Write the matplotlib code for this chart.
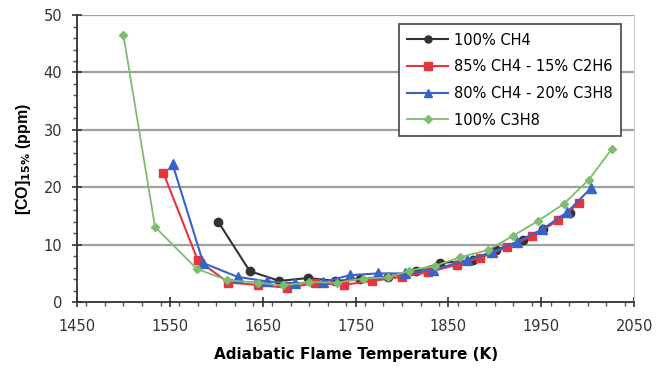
import matplotlib
matplotlib.use('Agg')
import matplotlib.pyplot as plt
from matplotlib.ticker import MultipleLocator

plt.rcParams['font.family'] = ['DejaVu Sans']

# 100% CH4
t_ch4 = [1602, 1636, 1668, 1699, 1728, 1755, 1785, 1815, 1841, 1876, 1901, 1930, 1952, 1981]
co_ch4 = [14.0, 5.4, 3.7, 4.2, 3.7, 4.0, 4.4, 5.4, 6.8, 7.3, 9.1, 10.8, 12.7, 15.5]

# 85% CH4 - 15% C2H6
t_c2h6 = [1543, 1580, 1613, 1645, 1676, 1706, 1737, 1768, 1800, 1828, 1859, 1884, 1913, 1940, 1968, 1991]
co_c2h6 = [22.5, 7.3, 3.4, 3.0, 2.5, 3.3, 3.0, 3.7, 4.4, 5.2, 6.5, 7.7, 9.6, 11.5, 14.3, 17.3]

# 80% CH4 - 20% C3H8
t_c3h8mix = [1553, 1586, 1623, 1655, 1685, 1715, 1744, 1774, 1803, 1833, 1870, 1897, 1924, 1951, 1978, 2003]
co_c3h8mix = [24.0, 6.8, 4.4, 3.6, 3.3, 3.5, 4.7, 5.0, 5.0, 5.6, 7.3, 8.7, 10.5, 12.7, 15.7, 19.8]

# 100% C3H8
t_c3h8 = [1500, 1534, 1579, 1612, 1645, 1672, 1700, 1730, 1758, 1785, 1808, 1835, 1862, 1893, 1919, 1946, 1974, 2001, 2026]
co_c3h8 = [46.5, 13.1, 5.8, 3.8, 3.4, 2.9, 3.5, 3.4, 4.1, 4.3, 5.5, 6.3, 7.8, 9.1, 11.5, 14.1, 17.1, 21.3, 26.7]

fig = plt.figure(figsize=(6.61, 3.68), dpi=100)
ax = fig.add_axes([0.1165, 0.179, 0.843, 0.78])

for y in [10, 20, 30, 40, 50]:
    ax.axhline(y, color='#a0a0a0', lw=1.6, zorder=0)

ax.plot(t_ch4, co_ch4, color='#333333', marker='o', ms=6, lw=1.5, label='100% CH4')
ax.plot(t_c2h6, co_c2h6, color='#e8343c', marker='s', ms=6, lw=1.5, label='85% CH4 - 15% C2H6')
ax.plot(t_c3h8mix, co_c3h8mix, color='#3a63c8', marker='^', ms=7, lw=1.5, label='80% CH4 - 20% C3H8')
ax.plot(t_c3h8, co_c3h8, color='#7cbd6e', marker='D', ms=4.5, lw=1.3, label='100% C3H8')

ax.set_xlim(1450, 2050)
ax.set_ylim(0, 50)
ax.set_xticks([1450, 1550, 1650, 1750, 1850, 1950, 2050])
ax.set_yticks([0, 10, 20, 30, 40, 50])
ax.xaxis.set_minor_locator(MultipleLocator(20))
ax.yaxis.set_minor_locator(MultipleLocator(2))
ax.tick_params(which='major', direction='inout', length=7, width=1.2, colors='#333333', labelsize=10.5)
ax.tick_params(axis='x', which='major', pad=9)
ax.tick_params(axis='y', which='major', pad=7)
ax.tick_params(which='minor', direction='out', length=3, width=1, colors='#555555')

ax.spines['top'].set_visible(False)
ax.spines['right'].set_color('#cccccc')
ax.spines['left'].set_color('#333333')
ax.spines['bottom'].set_color('#333333')
ax.spines['left'].set_linewidth(1.3)
ax.spines['bottom'].set_linewidth(1.3)

ax.set_xlabel('Adiabatic Flame Temperature (K)', fontweight='bold', fontsize=11, labelpad=9)
ax.set_ylabel('[CO]$_{\\mathbf{15\\%}}$ (ppm)', fontweight='bold', fontsize=11.5, labelpad=8,
              family='Liberation Sans')

leg = ax.legend(loc='upper right', bbox_to_anchor=(0.99, 0.995), fontsize=10.5, fancybox=False,
                framealpha=1, edgecolor='#444444', handlelength=2.8, handletextpad=0.4,
                borderpad=0.6, labelspacing=0.8, markerscale=0.85)
leg.get_frame().set_linewidth(1.2)

fig.savefig('out.png', dpi=100)
